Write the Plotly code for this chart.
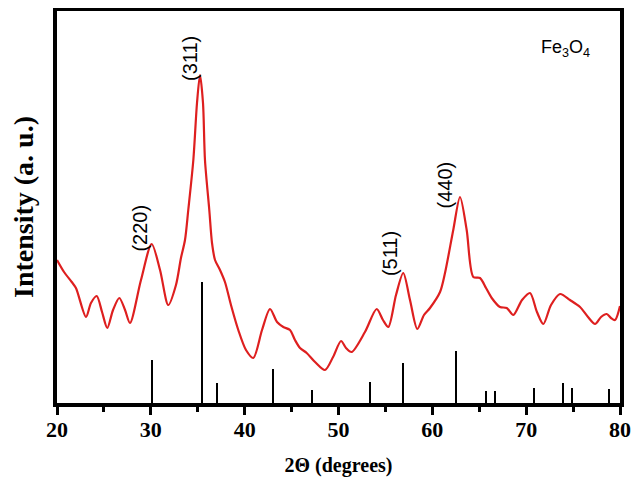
import plotly.graph_objects as go

# XRD pattern (2theta, intensity in arbitrary units)
two_theta = [20.0, 20.75, 21.57, 22.02, 23.09, 23.62, 24.23, 24.8, 25.36, 25.97,
             26.64, 27.25, 27.78, 28.95, 30.09, 30.98, 31.86, 32.68, 33.21, 33.64,
             33.99, 34.53, 34.92, 35.24, 35.56, 35.77, 36.23, 36.52, 36.84, 37.37,
             37.9, 38.54, 39.32, 40.14, 40.92, 41.85, 42.7, 43.45, 44.12, 44.83,
             45.36, 45.9, 46.61, 47.5, 48.56, 49.42, 50.27, 50.8, 51.4, 52.82,
             54.07, 54.74, 55.31, 56.13, 56.9, 57.62, 58.4, 59.11, 59.75, 60.82,
             61.35, 62.23, 62.95, 63.66, 64.37, 65.08, 65.72, 66.33, 67.21, 67.93,
             68.63, 69.56, 70.41, 71.15, 71.83, 72.65, 73.61, 74.67, 75.74, 76.59,
             77.34, 77.98, 78.58, 79.04, 79.47, 80.0]
intensity = [143, 131, 121, 115, 86, 100, 107, 91, 75, 93,
             105, 93, 80, 123, 159, 133, 98, 118, 145, 163,
             193, 243, 300, 328, 300, 243, 193, 160, 143, 133,
             121, 98, 73, 53, 45, 73, 94, 81, 76, 73,
             63, 55, 50, 41, 33, 46, 62, 55, 51, 71,
             94, 83, 76, 108, 130, 103, 74, 88, 95, 111,
             130, 173, 206, 173, 126, 125, 115, 105, 96, 95,
             88, 103, 110, 91, 79, 98, 109, 103, 96, 86,
             79, 86, 89, 85, 83, 97]

# Reference (standard) reflections of Fe3O4
ref_pos = [30.1, 35.45, 37.05, 43.05, 47.15, 53.4, 56.95, 62.55, 65.75, 66.7,
           70.9, 73.95, 74.95, 78.9]
ref_int = [43, 121, 20, 34, 13, 21, 40, 52, 12, 12, 15, 20, 15, 14]

# Miller-index labels
hkl_labels = ["(220)", "(311)", "(511)", "(440)"]
hkl_x = [28.8, 34.17, 55.5, 61.4]
hkl_y = [175, 345, 149, 218]

fig = go.Figure()
fig.add_trace(go.Bar(x=ref_pos, y=ref_int, width=0.16, marker=dict(color="black", line=dict(width=0)),
                     showlegend=False))
fig.add_trace(go.Scatter(x=two_theta, y=intensity, mode="lines",
                         line=dict(color="#de1f1f", width=2.2, shape="spline", smoothing=0.8),
                         showlegend=False))

for t, x, y in zip(hkl_labels, hkl_x, hkl_y):
    fig.add_annotation(x=x, y=y, text=t, showarrow=False, textangle=-90,
                       font=dict(family="Liberation Sans, Arial", size=20, color="black"))

fig.add_annotation(x=71.4, y=355, xanchor="left", yanchor="middle", showarrow=False,
                   text="Fe<sub>3</sub>O<sub>4</sub>",
                   font=dict(family="Liberation Sans, Arial", size=18, color="black"))

serif = "Liberation Serif, Times New Roman"
fig.update_layout(
    width=633, height=469,
    margin=dict(l=49, r=21, t=3, b=74),
    paper_bgcolor="white", plot_bgcolor="white",
    bargap=0,
    xaxis=dict(range=[20, 80], tickvals=[20, 30, 40, 50, 60, 70, 80],
               ticks="outside", ticklen=8, tickwidth=3, tickcolor="black",
               ticklabelstandoff=-4,
               minor=dict(tickvals=[25, 35, 45, 55, 65, 75], ticks="outside", ticklen=5,
                          tickwidth=3, tickcolor="black"),
               showline=True, linewidth=4, linecolor="black", mirror=True,
               showgrid=False, zeroline=False, automargin=False,
               tickfont=dict(family=serif, size=22, color="black", weight="bold"),
               title=dict(text="2Θ (degrees)", standoff=18,
                          font=dict(family=serif, size=20, color="black", weight="bold"))),
    yaxis=dict(range=[0, 392], showticklabels=False, ticks="",
               showline=True, linewidth=4, linecolor="black", mirror=True,
               showgrid=False, zeroline=False, automargin=False,
               title=dict(text="Intensity (a. u.)", standoff=18,
                          font=dict(family=serif, size=28, color="black", weight="bold"))),
)

fig.write_html("out.html")
